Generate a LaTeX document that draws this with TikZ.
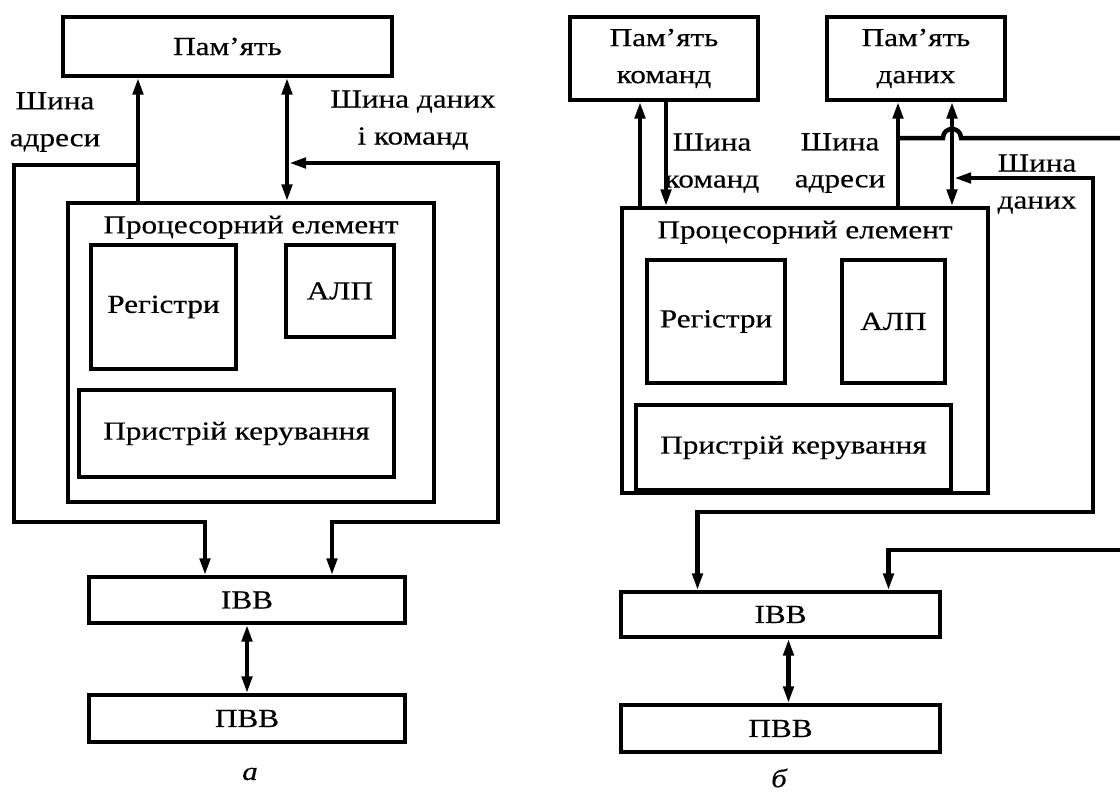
\documentclass[tikz,border=0pt]{standalone}
\usepackage{fontspec}
\setmainfont{Liberation Serif}[FakeStretch=1.2,FakeBold=0.4]
\usetikzlibrary{arrows.meta,positioning,calc}
\tikzset{
  box/.style 2 args={draw=black,line width=3.2pt,minimum width=#1,minimum height=#2,inner sep=0pt,align=center},
  bus/.style={line width=4.5pt,draw=black},
  arr/.style={bus,-{Triangle[length=17pt,width=10pt]}},
  darr/.style={bus,{Triangle[length=17pt,width=10pt]}-{Triangle[length=17pt,width=10pt]}},
  lbl/.style={align=center,inner sep=0pt},
  ptitle/.style={anchor=north,inner sep=0pt,yshift=-14pt},
}

\begin{document}
\begin{tikzpicture}[x=1pt,y=-1pt,every node/.style={font=\fontsize{26}{37}\selectfont}]
  \useasboundingbox (0,0) rectangle (1120,796);
  % a
  \node[box={329pt}{59pt}] (mem1) at (227.5,46.5) {Пам’ять};
  \node[box={366pt}{299pt},label={[ptitle]north:Процесорний елемент}] (pe1) at (251,352.5) {};
  \node[box={145pt}{124pt}] (reg1) at (163.5,307) {Регістри};
  \node[box={108pt}{92pt}] (alu1) at (340,291) {АЛП};
  \node[box={315pt}{87pt}] (cu1) at (236.5,433.5) {Пристрій керування};
  \node[box={316pt}{46pt}] (ivv1) at (247,600) {ІВВ};
  \node[box={316pt}{47pt}] (pvv1) at (247,718.5) {ПВВ};
  \node[lbl] (la1) at (55,122) {Шина\\адреси};
  \node[lbl] (ld1) at (413,120) {Шина даних\\і команд};
  \node[font=\fontsize{26}{30}\selectfont\itshape] (ca) at (250,774) {а};
  \coordinate (ja1) at (138,165);
  \coordinate (ca1) at (14,522);
  \coordinate (jd1) at (287,163);
  \coordinate (cd1) at (498,522);
  \draw[arr] (ja1 |- pe1.north) -- (ja1 |- mem1.south);
  \draw[arr] (ja1) -| (ca1) -| ([xshift=-42pt]ivv1.north);
  \draw[darr] (jd1 |- pe1.north) -- (jd1 |- mem1.south);
  \draw[darr] ([xshift=2pt]jd1) -| (cd1) -| ([xshift=85pt]ivv1.north);
  \draw[darr] (ivv1.south) -- (pvv1.north);
  % b
  \node[box={188pt}{83pt}] (cm) at (664,58.5) {Пам’ять\\команд};
  \node[box={178pt}{83pt}] (dm) at (916,58.5) {Пам’ять\\даних};
  \node[box={366pt}{285pt},label={[ptitle]north:Процесорний елемент}] (pe2) at (805,350.5) {};
  \node[box={138pt}{123pt}] (reg2) at (716,321.5) {Регістри};
  \node[box={103pt}{123pt}] (alu2) at (893.5,321.5) {АЛП};
  \node[box={315pt}{85pt}] (cu2) at (793.5,447.5) {Пристрій керування};
  \node[box={319pt}{45pt}] (ivv2) at (780.5,614.5) {ІВВ};
  \node[box={319pt}{47pt}] (pvv2) at (780.5,728.5) {ПВВ};
  \node[lbl] (lc2) at (712,163) {Шина\\команд};
  \node[lbl] (la2) at (840,163) {Шина\\адреси};
  \node[lbl] (ld2) at (1037,184) {Шина\\даних};
  \node[font=\fontsize{26}{30}\selectfont\itshape] (cb) at (779,778) {б};
  \coordinate (ja2) at (898,138);
  \coordinate (jd2) at (952,178);
  \coordinate (cd2) at (1093,512);
  \coordinate (ea2) at (1120,138);
  \coordinate (eb2) at (1120,550);
  \draw[arr] ([xshift=-24pt]cm.south |- pe2.north) -- ([xshift=-24pt]cm.south);
  \draw[arr] ([xshift=2pt]cm.south) -- ([xshift=2pt]cm.south |- pe2.north);
  \draw[arr] (ja2 |- pe2.north) -- (ja2 |- dm.south);
  \draw[darr] (jd2 |- pe2.north) -- (jd2 |- dm.south);
  \draw[bus] (ja2) -- ([xshift=-9pt]jd2 |- ja2) .. controls +(0,-12) and +(0,-12) .. ([xshift=9pt]jd2 |- ja2) -- (ea2);
  \draw[darr] ([xshift=2pt]jd2) -| (cd2) -| ([xshift=-83pt]ivv2.north);
  \draw[arr] (eb2) -| ([xshift=108pt]ivv2.north);
  \draw[darr] ([xshift=8pt]ivv2.south) -- ([xshift=8pt]pvv2.north);
\end{tikzpicture}
\end{document}
